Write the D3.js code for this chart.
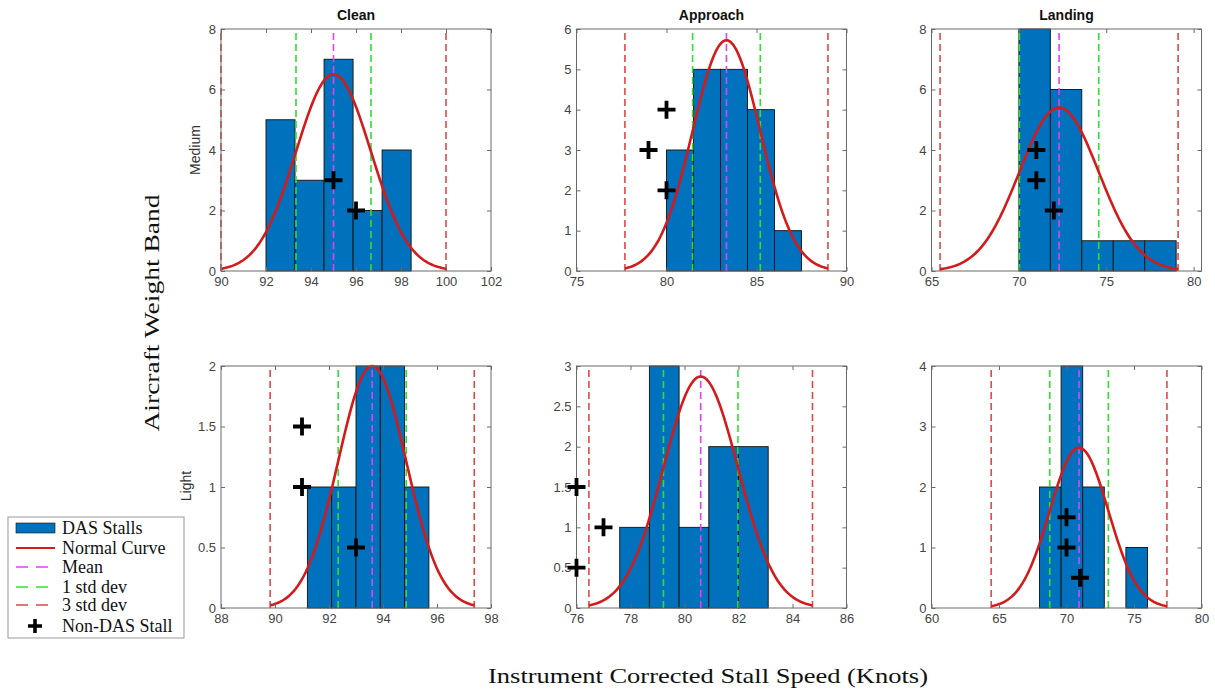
<!DOCTYPE html>
<html>
<head>
<meta charset="utf-8">
<script src="https://cdn.jsdelivr.net/npm/d3@7"></script>
<style>
  html, body { margin: 0; padding: 0; background: #fff; }
  svg { display: block; }
  .tick text { font-family: "Liberation Sans", Arial, sans-serif; font-size: 13px; fill: #444; }
</style>
</head>
<body>
<svg id="chart" width="1215" height="690"></svg>
<script>
// ---------------- data ----------------
const phases = ["Clean", "Approach", "Landing"];
const bands = ["Medium", "Light"];
const xDomains = [[90, 102], [75, 90], [65, 80.45], [88, 98], [76, 86], [60, 80]];
const yMaxes = [8, 6, 8, 2, 3, 4];
const xTickValues = [
  [90, 92, 94, 96, 98, 100, 102],
  [75, 80, 85, 90],
  [65, 70, 75, 80],
  [88, 90, 92, 94, 96, 98],
  [76, 78, 80, 82, 84, 86],
  [60, 65, 70, 75, 80]
];
const yTickValues = [
  [0, 2, 4, 6, 8],
  [0, 1, 2, 3, 4, 5, 6],
  [0, 2, 4, 6, 8],
  [0, 0.5, 1, 1.5, 2],
  [0, 0.5, 1, 1.5, 2, 2.5, 3],
  [0, 1, 2, 3, 4]
];
const binEdges = [
  [92.0, 93.29, 94.58, 95.87, 97.16, 98.45],
  [80.0, 81.5, 83.0, 84.5, 86.0, 87.5],
  [70.0, 71.8, 73.6, 75.4, 77.2, 79.0],
  [91.2, 92.1, 93.0, 93.9, 94.8, 95.7],
  [77.6, 78.7, 79.8, 80.9, 82.0, 83.1],
  [68.0, 69.6, 71.2, 72.8, 74.4, 76.0]
];
const dasCounts = [
  [5, 3, 7, 2, 4],
  [3, 5, 5, 4, 1],
  [8, 6, 1, 1, 1],
  [1, 1, 2, 2, 1],
  [1, 3, 1, 2, 2],
  [2, 4, 2, 0, 1]
];
const means = [95.0, 83.33, 72.3, 93.6, 80.6, 70.93];
const stdDevs = [1.667, 1.88, 2.27, 1.26, 1.38, 2.17];
const curvePeaks = [6.5, 5.72, 5.4, 2.0, 2.87, 2.65];
const nonDasX = [[95, 96], [80, 79, 80], [71, 71, 72], [91, 91, 93], [76, 77, 76], [70, 70, 71]];
const nonDasY = [[3, 2], [4, 3, 2], [4, 3, 2], [1.5, 1, 0.5], [1.5, 1, 0.5], [1.5, 1, 0.5]];
const legendLabels = ["DAS Stalls", "Normal Curve", "Mean", "1 std dev", "3 std dev", "Non-DAS Stall"];

// ---------------- layout / style ----------------
const colLefts = [221, 576.5, 931.5];
const rowTops = [29, 366];
const panelW = 270, panelH = 242;
const barColor = "#0072BD";
const curveColor = "#d41a1a";
const meanColor = "#dd44ee";
const sd1Color = "#33dd33";
const sd3Color = "#e04848";
const axisColor = "#6a6a6a";
const serif = "'Liberation Serif', 'Times New Roman', serif";
const sans = "'Liberation Sans', Arial, sans-serif";

const svg = d3.select("#chart");

function plusPath(cx, cy, s) {
  return `M${cx - s},${cy}H${cx + s}M${cx},${cy - s}V${cy + s}`;
}

for (let r = 0; r < 2; r++) {
  for (let c = 0; c < 3; c++) {
    const i = r * 3 + c;
    const x = d3.scaleLinear().domain(xDomains[i]).range([0, panelW]);
    const y = d3.scaleLinear().domain([0, yMaxes[i]]).range([panelH, 0]);
    const g = svg.append("g").attr("transform", `translate(${colLefts[c]},${rowTops[r]})`);

    // histogram bars
    const edges = binEdges[i];
    const bins = dasCounts[i].map((v, k) => ({ x0: edges[k], x1: edges[k + 1], v }));
    g.selectAll("rect.bar").data(bins.filter(d => d.v > 0)).join("rect")
      .attr("class", "bar")
      .attr("x", d => x(d.x0))
      .attr("width", d => x(d.x1) - x(d.x0))
      .attr("y", d => y(d.v))
      .attr("height", d => y(0) - y(d.v))
      .attr("fill", barColor)
      .attr("stroke", "#111")
      .attr("stroke-width", 0.9);

    // vertical reference lines
    const m = means[i], s = stdDevs[i];
    const vlines = [
      { v: m, col: meanColor },
      { v: m - s, col: sd1Color }, { v: m + s, col: sd1Color },
      { v: m - 3 * s, col: sd3Color }, { v: m + 3 * s, col: sd3Color }
    ];
    g.selectAll("line.ref").data(vlines).join("line")
      .attr("class", "ref")
      .attr("x1", d => x(d.v)).attr("x2", d => x(d.v))
      .attr("y1", y(0)).attr("y2", y(yMaxes[i]))
      .attr("stroke", d => d.col)
      .attr("stroke-width", 1.6)
      .attr("stroke-dasharray", "7,4");

    // normal curve (mean / std dev / peak)
    const xs = d3.range(0, 121).map(k => m - 3 * s + k * (6 * s / 120));
    const curve = xs.map(xx => [xx, curvePeaks[i] * Math.exp(-0.5 * ((xx - m) / s) ** 2)]);
    g.append("path")
      .datum(curve)
      .attr("fill", "none")
      .attr("stroke", curveColor)
      .attr("stroke-width", 2.6)
      .attr("d", d3.line().x(d => x(d[0])).y(d => y(d[1])));

    // axes (MATLAB style: inward ticks, boxed)
    const ax = g.append("g").attr("transform", `translate(0,${panelH})`)
      .call(d3.axisBottom(x).tickValues(xTickValues[i]).tickSize(-4).tickPadding(6).tickFormat(d3.format("")));
    const ay = g.append("g")
      .call(d3.axisLeft(y).tickValues(yTickValues[i]).tickSize(-4).tickPadding(5).tickFormat(d3.format("")));
    const axT = g.append("g")
      .call(d3.axisTop(x).tickValues(xTickValues[i]).tickSize(-4).tickFormat(""));
    const ayR = g.append("g").attr("transform", `translate(${panelW},0)`)
      .call(d3.axisRight(y).tickValues(yTickValues[i]).tickSize(-4).tickFormat(""));
    [ax, ay, axT, ayR].forEach(a => {
      a.select(".domain").remove();
      a.selectAll(".tick line").attr("stroke", axisColor);
    });
    g.append("rect")
      .attr("x", 0).attr("y", 0).attr("width", panelW).attr("height", panelH)
      .attr("fill", "none").attr("stroke", axisColor).attr("stroke-width", 1);

    // non-DAS stall markers
    g.selectAll("path.mk").data(nonDasX[i].map((v, k) => [v, nonDasY[i][k]])).join("path")
      .attr("class", "mk")
      .attr("d", d => plusPath(x(d[0]), y(d[1]), 9))
      .attr("stroke", "#000")
      .attr("stroke-width", 3.8)
      .attr("fill", "none");

    // titles
    if (r === 0) {
      g.append("text")
        .attr("x", panelW / 2).attr("y", -9)
        .attr("text-anchor", "middle")
        .attr("font-family", sans).attr("font-size", 14).attr("font-weight", "bold")
        .attr("fill", "#111")
        .text(phases[c]);
    }
  }
}

// row labels
svg.append("text")
  .attr("transform", `translate(200,150) rotate(-90)`)
  .attr("text-anchor", "middle")
  .attr("font-family", sans).attr("font-size", 14).attr("fill", "#333")
  .text(bands[0]);
svg.append("text")
  .attr("transform", `translate(191,486) rotate(-90)`)
  .attr("text-anchor", "middle")
  .attr("font-family", sans).attr("font-size", 14).attr("fill", "#333")
  .text(bands[1]);

// overall axis labels
svg.append("text")
  .attr("transform", `translate(159,313) rotate(-90)`)
  .attr("text-anchor", "middle")
  .attr("font-family", serif).attr("font-size", 22).attr("fill", "#111")
  .attr("textLength", 237).attr("lengthAdjust", "spacingAndGlyphs")
  .text("Aircraft Weight Band");
svg.append("text")
  .attr("x", 708).attr("y", 683)
  .attr("text-anchor", "middle")
  .attr("font-family", serif).attr("font-size", 22).attr("fill", "#111")
  .attr("textLength", 440).attr("lengthAdjust", "spacingAndGlyphs")
  .text("Instrument Corrected Stall Speed (Knots)");

// legend
const lg = svg.append("g").attr("transform", "translate(8,517)");
lg.append("rect").attr("x", 0).attr("y", 0).attr("width", 176).attr("height", 121)
  .attr("fill", "#fff").attr("stroke", "#999").attr("stroke-width", 1);
const rowY = [11, 31, 50, 70, 88, 109];
lg.append("rect").attr("x", 8).attr("y", rowY[0] - 5).attr("width", 39).attr("height", 10)
  .attr("fill", barColor).attr("stroke", "#111").attr("stroke-width", 0.6);
lg.append("line").attr("x1", 8).attr("x2", 47).attr("y1", rowY[1]).attr("y2", rowY[1])
  .attr("stroke", curveColor).attr("stroke-width", 2.2);
[[meanColor, 2], [sd1Color, 3], [sd3Color, 4]].forEach(([col, k]) => {
  lg.append("line").attr("x1", 8).attr("x2", 48).attr("y1", rowY[k]).attr("y2", rowY[k])
    .attr("stroke", col).attr("stroke-width", 1.6).attr("stroke-dasharray", "12,8");
});
lg.append("path").attr("d", plusPath(27, rowY[5], 7))
  .attr("stroke", "#000").attr("stroke-width", 3.6).attr("fill", "none");
lg.selectAll("text.lgt").data(legendLabels).join("text")
  .attr("class", "lgt")
  .attr("x", 54).attr("y", (d, k) => rowY[k])
  .attr("dy", "0.35em")
  .attr("font-family", serif).attr("font-size", 18).attr("fill", "#111")
  .text(d => d);
</script>
</body>
</html>
